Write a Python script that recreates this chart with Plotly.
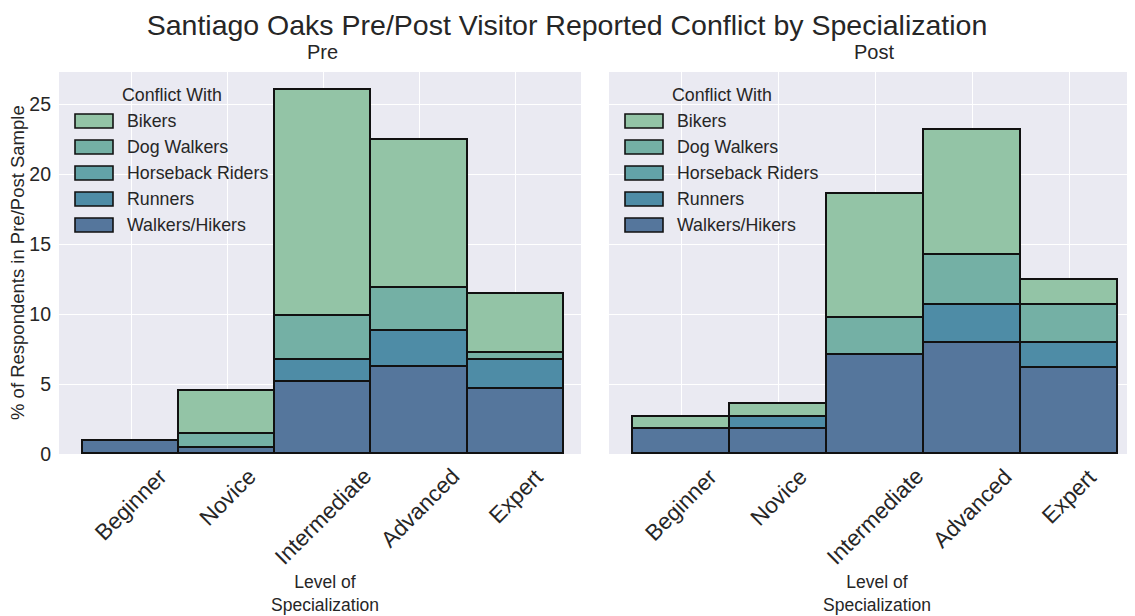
import plotly.graph_objects as go
from plotly.subplots import make_subplots

levels = ["Beginner", "Novice", "Intermediate", "Advanced", "Expert"]
groups = ["Bikers", "Dog Walkers", "Horseback Riders", "Runners", "Walkers/Hikers"]
colors = ["#93c4a6", "#74b0a5", "#63a3a8", "#4e8ca6", "#55769c"]

# % of respondents per conflict group
pre_bikers = [0.0, 3.10, 16.12, 10.55, 4.19]
pre_dog = [0.0, 0.95, 3.17, 3.07, 0.52]
pre_horse = [0.0, 0.0, 0.0, 0.0, 0.0]
pre_runners = [0.0, 0.0, 1.57, 2.60, 2.05]
pre_walkers = [0.95, 0.45, 5.12, 6.21, 4.64]

post_bikers = [0.88, 0.91, 8.83, 8.88, 1.81]
post_dog = [0.0, 0.0, 2.69, 3.62, 2.69]
post_horse = [0.0, 0.0, 0.0, 0.0, 0.0]
post_runners = [0.0, 0.88, 0.0, 2.69, 1.79]
post_walkers = [1.76, 1.76, 7.05, 7.93, 6.14]

pre = dict(zip(groups, [pre_bikers, pre_dog, pre_horse, pre_runners, pre_walkers]))
post = dict(zip(groups, [post_bikers, post_dog, post_horse, post_runners, post_walkers]))

FONT = "Liberation Sans, Arial, sans-serif"
INK = "#262626"

# the page body adds an 8px margin, so the figure is made smaller by that much
OFF = 8
FIG_W, FIG_H = 1135 - OFF, 616 - OFF

# plot area in window pixels: x 59..1135, y 72..454
L, T, W, H = 59, 72, 1076, 382


def px(x):
    return (x - L) / W


def py(y):
    return (T + H - y) / H


fig = make_subplots(rows=1, cols=2, shared_yaxes=True)

# seaborn stacks the last hue at the bottom
for col, data in [(1, pre), (2, post)]:
    for g, c in reversed(list(zip(groups, colors))):
        fig.add_trace(
            go.Bar(
                x=levels,
                y=data[g],
                name=g,
                marker=dict(color=c, line=dict(color="#111111", width=1.6)),
                showlegend=False,
            ),
            row=1, col=col,
        )

fig.update_layout(
    width=FIG_W,
    height=FIG_H,
    barmode="stack",
    bargap=0,
    plot_bgcolor="#eaeaf2",
    paper_bgcolor="white",
    font=dict(family=FONT, color=INK),
    margin=dict(l=L - OFF, r=0, t=T - OFF, b=FIG_H - (T - OFF) - H),
    title=dict(
        text="Santiago Oaks Pre/Post Visitor Reported Conflict by Specialization",
        x=(567 - OFF) / FIG_W, xref="container", xanchor="center",
        y=1 - (25 - OFF) / FIG_H, yref="container", yanchor="middle",
        font=dict(size=28.5, color=INK),
    ),
)

panels = [("Pre", 59, 581, "x"), ("Post", 609, 1135, "x2")]

fig.update_xaxes(
    showgrid=True, gridcolor="white", gridwidth=1.4,
    zeroline=False, showline=False, ticks="",
    showticklabels=False, range=[-0.75, 4.68],
    categoryorder="array", categoryarray=levels,
)
fig.layout.xaxis.domain = [px(59), px(581)]
fig.layout.xaxis2.domain = [px(609), px(1135)]

fig.update_yaxes(
    range=[0, 27.3], tickvals=[0, 5, 10, 15, 20, 25],
    showgrid=True, gridcolor="white", gridwidth=1.4,
    zeroline=False, showline=False, ticks="",
)
fig.update_yaxes(tickfont=dict(size=19.5, color=INK), ticklabelstandoff=7, row=1, col=1)
fig.update_yaxes(showticklabels=False, row=1, col=2)

ann = []
shapes = []
for title, x0, x1, xref in panels:
    mid = (x0 + x1) / 2
    ann.append(dict(text=title, x=px(mid + 2), y=py(52), xref="paper", yref="paper",
                    showarrow=False, xanchor="center", yanchor="middle",
                    font=dict(size=20, color=INK)))
    # rotated tick labels, centred on each category like matplotlib
    for lv in levels:
        ann.append(dict(text=lv, x=lv, xref=xref, y=py(461), yref="paper",
                        showarrow=False, textangle=-45,
                        xanchor="center", yanchor="top",
                        font=dict(size=22.5, color=INK)))
    ann.append(dict(text="Level of<br>Specialization", x=px(mid + 5), y=py(593),
                    xref="paper", yref="paper", showarrow=False,
                    xanchor="center", yanchor="middle",
                    font=dict(size=17.5, color=INK)))
    # legend drawn by hand: wide swatches like the matplotlib one
    ann.append(dict(text="Conflict With", x=px(x0 + 113), y=py(95),
                    xref="paper", yref="paper", showarrow=False,
                    xanchor="center", yanchor="middle",
                    font=dict(size=17.8, color=INK)))
    for i, (g, c) in enumerate(zip(groups, colors)):
        yc = 121 + 26 * i
        shapes.append(dict(type="rect", xref="paper", yref="paper",
                           x0=px(x0 + 16), x1=px(x0 + 54),
                           y0=py(yc - 7), y1=py(yc + 7),
                           fillcolor=c, line=dict(color="#111111", width=1.6)))
        ann.append(dict(text=g, x=px(x0 + 66), y=py(yc), xref="paper", yref="paper",
                        showarrow=False, xanchor="left", yanchor="middle",
                        font=dict(size=17.8, color=INK)))

ann.append(dict(text="% of Respondents in Pre/Post Sample", x=px(17), y=py(263),
                xref="paper", yref="paper", showarrow=False, textangle=-90,
                xanchor="center", yanchor="middle",
                font=dict(size=18.5, color=INK)))

fig.update_layout(annotations=ann, shapes=shapes)

fig.write_html("out.html")
